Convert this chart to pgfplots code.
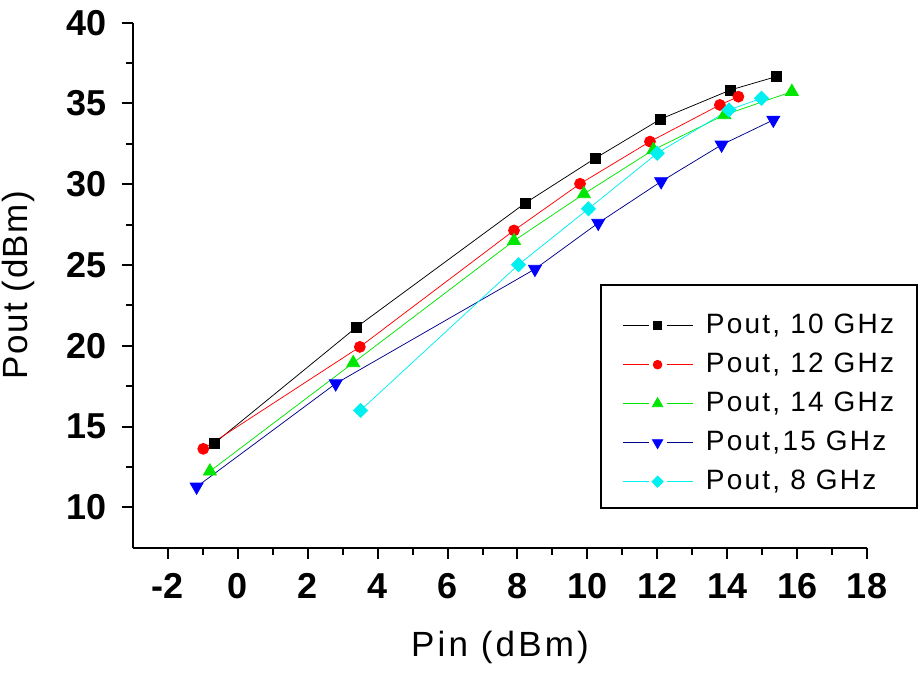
\documentclass[border=0pt]{standalone}
\usepackage{fontspec}
\setmainfont{Liberation Sans}
\newfontfamily\lblfont[LetterSpace=9]{Liberation Sans}
\newfontfamily\ylblfont[LetterSpace=4]{Liberation Sans}
\newfontfamily\legfont[LetterSpace=8]{Liberation Sans}
\usepackage{pgfplots}
\pgfplotsset{compat=1.18}
\definecolor{cgreen}{RGB}{0,230,0}
\definecolor{cblue}{RGB}{0,0,255}
\definecolor{cnavy}{RGB}{0,0,140}
\definecolor{ccyan}{RGB}{0,240,240}
\begin{document}
\begin{tikzpicture}
\begin{axis}[
  at={(0pt,0pt)}, anchor=south west,
  width=734pt, height=525pt, scale only axis,
  xmin=-3, xmax=18, ymin=7.5, ymax=40,
  axis x line*=bottom, axis y line*=left,
  axis line style={line width=2pt,-},
  xtick={-2,0,...,18}, ytick={10,15,...,40},
  minor xtick={-1,1,...,17}, minor ytick={12.5,17.5,...,37.5},
  tick align=outside,
  major tick length=11pt, minor tick length=7pt,
  every tick/.style={black, line width=2pt},
  /pgf/number format/assume math mode=true,
  tick label style={font=\fontsize{36}{36}\selectfont\bfseries},
  xticklabel style={anchor=base, yshift=-40pt},
  yticklabel style={anchor=east, xshift=-12pt},
  xlabel={Pin (dBm)}, ylabel={Pout (dBm)},
  every axis x label/.style={at={(axis description cs:0.5,0)}, anchor=base, yshift=-109pt,
     font=\lblfont\fontsize{35}{35}\selectfont},
  every axis y label/.style={at={(axis description cs:0,0.5)}, rotate=90, anchor=base, yshift=105pt,
     font=\ylblfont\fontsize{35}{35}\selectfont},
  legend style={at={(rel axis cs:0.6376,0.449)}, anchor=north west, xshift=21pt,
    draw=none, fill=none, inner sep=0pt,
    font=\legfont\fontsize{28}{28}\selectfont,
    nodes={inner sep=0pt, text height=21pt, text depth=6pt},
    row sep=12pt, column sep=13pt},
  legend cell align=left,
  legend image code/.code={
    \draw[#1,mark=none,line width=0.75pt] (0pt,0pt) -- (26pt,0pt);
    \draw[#1,mark=none,line width=0.75pt] (44pt,0pt) -- (70pt,0pt);
    \draw[#1,only marks,scale=0.8] plot coordinates {(35pt/0.8,0pt)};
  },
]
\addplot[black, line width=0.75pt, mark=square*, mark size=5pt, mark options={solid,fill=black}]
  coordinates {(-0.68,13.95) (3.40,21.16) (8.22,28.83) (10.22,31.6) (12.10,34.04) (14.10,35.84) (15.40,36.66)};
\addlegendentry{Pout, 10 GHz}
\addplot[red, line width=0.75pt, mark=*, mark size=5.5pt, mark options={solid,fill=red}]
  coordinates {(-0.99,13.62) (3.49,19.93) (7.90,27.14) (9.79,30.03) (11.79,32.64) (13.79,34.91) (14.32,35.42)};
\addlegendentry{Pout, 12 GHz}
\addplot[cgreen, line width=0.75pt, mark=triangle*, mark size=7.5pt, mark options={solid,fill=cgreen,draw=cgreen}]
  coordinates {(-0.80,12.23) (3.30,18.94) (7.90,26.5) (9.90,29.4) (11.89,32.13) (13.92,34.29) (15.85,35.73)};
\addlegendentry{Pout, 14 GHz}
\addplot[cnavy, line width=0.75pt, mark=triangle*, mark size=7.5pt, mark options={solid,rotate=180,fill=cblue,draw=cblue}]
  coordinates {(-1.18,11.27) (2.80,17.66) (8.50,24.75) (10.31,27.6) (12.11,30.17) (13.84,32.44) (15.32,33.98)};
\addlegendentry{Pout,15 GHz}
\addplot[ccyan, line width=0.75pt, mark=square*, mark size=5pt, mark options={solid,rotate=45,fill=ccyan,draw=ccyan}]
  coordinates {(3.51,16.0) (8.03,25.02) (10.03,28.48) (12.0,31.92) (14.05,34.6) (14.98,35.32)};
\addlegendentry{Pout, 8 GHz}
\end{axis}
\draw[line width=1.2pt] (468pt,39.7pt) rectangle (784pt,262.7pt);
\pgfresetboundingbox
\useasboundingbox (-133pt,-127.3pt) rectangle (787pt,547.7pt);
\end{tikzpicture}
\end{document}
